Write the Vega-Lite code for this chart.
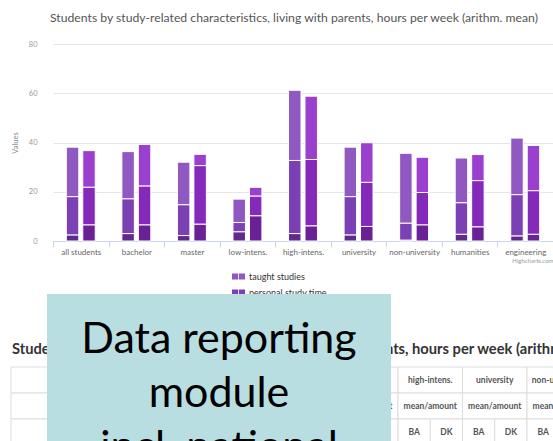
{
  "$schema": "https://vega.github.io/schema/vega-lite/v6.json",
  "padding": {"left": 10, "top": 11, "right": 0, "bottom": 0},
  "background": "white",
  "config": {"font": "Lato", "view": {"stroke": null}},
  "columns": 1,
  "align": "none",
  "spacing": -4,
  "resolve": {"scale": {"xOffset": "independent", "color": "independent"}},
  "datasets": {
    "bars": [
      {"cat": "all students", "country": "BA", "series": "taught studies", "hours": 20.1},
      {"cat": "all students", "country": "BA", "series": "personal study time", "hours": 15.6},
      {"cat": "all students", "country": "BA", "series": "paid job", "hours": 2.4},
      {"cat": "all students", "country": "DK", "series": "taught studies", "hours": 14.9},
      {"cat": "all students", "country": "DK", "series": "personal study time", "hours": 15.3},
      {"cat": "all students", "country": "DK", "series": "paid job", "hours": 6.5},
      {"cat": "bachelor", "country": "BA", "series": "taught studies", "hours": 19.2},
      {"cat": "bachelor", "country": "BA", "series": "personal study time", "hours": 14.1},
      {"cat": "bachelor", "country": "BA", "series": "paid job", "hours": 3.0},
      {"cat": "bachelor", "country": "DK", "series": "taught studies", "hours": 16.9},
      {"cat": "bachelor", "country": "DK", "series": "personal study time", "hours": 15.8},
      {"cat": "bachelor", "country": "DK", "series": "paid job", "hours": 6.5},
      {"cat": "master", "country": "BA", "series": "taught studies", "hours": 17.3},
      {"cat": "master", "country": "BA", "series": "personal study time", "hours": 12.5},
      {"cat": "master", "country": "BA", "series": "paid job", "hours": 2.2},
      {"cat": "master", "country": "DK", "series": "taught studies", "hours": 4.6},
      {"cat": "master", "country": "DK", "series": "personal study time", "hours": 23.8},
      {"cat": "master", "country": "DK", "series": "paid job", "hours": 6.8},
      {"cat": "low-intens.", "country": "BA", "series": "taught studies", "hours": 9.5},
      {"cat": "low-intens.", "country": "BA", "series": "personal study time", "hours": 3.8},
      {"cat": "low-intens.", "country": "BA", "series": "paid job", "hours": 3.7},
      {"cat": "low-intens.", "country": "DK", "series": "taught studies", "hours": 3.6},
      {"cat": "low-intens.", "country": "DK", "series": "personal study time", "hours": 8.0},
      {"cat": "low-intens.", "country": "DK", "series": "paid job", "hours": 10.2},
      {"cat": "high-intens.", "country": "BA", "series": "taught studies", "hours": 28.5},
      {"cat": "high-intens.", "country": "BA", "series": "personal study time", "hours": 29.7},
      {"cat": "high-intens.", "country": "BA", "series": "paid job", "hours": 3.0},
      {"cat": "high-intens.", "country": "DK", "series": "taught studies", "hours": 25.7},
      {"cat": "high-intens.", "country": "DK", "series": "personal study time", "hours": 27.0},
      {"cat": "high-intens.", "country": "DK", "series": "paid job", "hours": 6.1},
      {"cat": "university", "country": "BA", "series": "taught studies", "hours": 20.1},
      {"cat": "university", "country": "BA", "series": "personal study time", "hours": 15.6},
      {"cat": "university", "country": "BA", "series": "paid job", "hours": 2.4},
      {"cat": "university", "country": "DK", "series": "taught studies", "hours": 16.1},
      {"cat": "university", "country": "DK", "series": "personal study time", "hours": 17.9},
      {"cat": "university", "country": "DK", "series": "paid job", "hours": 5.9},
      {"cat": "non-university", "country": "BA", "series": "taught studies", "hours": 28.4},
      {"cat": "non-university", "country": "BA", "series": "personal study time", "hours": 6.9},
      {"cat": "non-university", "country": "BA", "series": "paid job", "hours": 0.3},
      {"cat": "non-university", "country": "DK", "series": "taught studies", "hours": 14.3},
      {"cat": "non-university", "country": "DK", "series": "personal study time", "hours": 13.2},
      {"cat": "non-university", "country": "DK", "series": "paid job", "hours": 6.5},
      {"cat": "humanities", "country": "BA", "series": "taught studies", "hours": 18.2},
      {"cat": "humanities", "country": "BA", "series": "personal study time", "hours": 12.8},
      {"cat": "humanities", "country": "BA", "series": "paid job", "hours": 2.7},
      {"cat": "humanities", "country": "DK", "series": "taught studies", "hours": 10.6},
      {"cat": "humanities", "country": "DK", "series": "personal study time", "hours": 18.8},
      {"cat": "humanities", "country": "DK", "series": "paid job", "hours": 5.7},
      {"cat": "engineering", "country": "BA", "series": "taught studies", "hours": 23.0},
      {"cat": "engineering", "country": "BA", "series": "personal study time", "hours": 16.8},
      {"cat": "engineering", "country": "BA", "series": "paid job", "hours": 2.0},
      {"cat": "engineering", "country": "DK", "series": "taught studies", "hours": 18.4},
      {"cat": "engineering", "country": "DK", "series": "personal study time", "hours": 17.7},
      {"cat": "engineering", "country": "DK", "series": "paid job", "hours": 2.7}
    ],
    "table": [
      {"row": "title", "col": "L1", "text": "Students by study-related characteristics, living with parents, hours per week (arithm. mean)"},
      {"row": "r1", "col": "L1"}, {"row": "r1", "col": "L2"},
      {"row": "r2", "col": "L1"}, {"row": "r2", "col": "L2"},
      {"row": "r3", "col": "L1"}, {"row": "r3", "col": "L2"},
      {"row": "r1", "col": "all students", "text": "all students"},
      {"row": "r1", "col": "bachelor", "text": "bachelor"},
      {"row": "r1", "col": "master", "text": "master"},
      {"row": "r1", "col": "low-intens.", "text": "low-intens."},
      {"row": "r1", "col": "high-intens.", "text": "high-intens."},
      {"row": "r1", "col": "university", "text": "university"},
      {"row": "r1", "col": "non-university", "text": "non-university"},
      {"row": "r1", "col": "humanities", "text": "humanities"},
      {"row": "r1", "col": "engineering", "text": "engineering"},
      {"row": "r2", "col": "all students", "text": "mean/amount"},
      {"row": "r2", "col": "bachelor", "text": "mean/amount"},
      {"row": "r2", "col": "master", "text": "mean/amount"},
      {"row": "r2", "col": "low-intens.", "text": "mean/amount"},
      {"row": "r2", "col": "high-intens.", "text": "mean/amount"},
      {"row": "r2", "col": "university", "text": "mean/amount"},
      {"row": "r2", "col": "non-university", "text": "mean/amount"},
      {"row": "r2", "col": "humanities", "text": "mean/amount"},
      {"row": "r2", "col": "engineering", "text": "mean/amount"},
      {"row": "r3", "col": "all students", "sub": "BA", "text": "BA"},
      {"row": "r3", "col": "all students", "sub": "DK", "text": "DK"},
      {"row": "r3", "col": "bachelor", "sub": "BA", "text": "BA"},
      {"row": "r3", "col": "bachelor", "sub": "DK", "text": "DK"},
      {"row": "r3", "col": "master", "sub": "BA", "text": "BA"},
      {"row": "r3", "col": "master", "sub": "DK", "text": "DK"},
      {"row": "r3", "col": "low-intens.", "sub": "BA", "text": "BA"},
      {"row": "r3", "col": "low-intens.", "sub": "DK", "text": "DK"},
      {"row": "r3", "col": "high-intens.", "sub": "BA", "text": "BA"},
      {"row": "r3", "col": "high-intens.", "sub": "DK", "text": "DK"},
      {"row": "r3", "col": "university", "sub": "BA", "text": "BA"},
      {"row": "r3", "col": "university", "sub": "DK", "text": "DK"},
      {"row": "r3", "col": "non-university", "sub": "BA", "text": "BA"},
      {"row": "r3", "col": "non-university", "sub": "DK", "text": "DK"},
      {"row": "r3", "col": "humanities", "sub": "BA", "text": "BA"},
      {"row": "r3", "col": "humanities", "sub": "DK", "text": "DK"},
      {"row": "r3", "col": "engineering", "sub": "BA", "text": "BA"},
      {"row": "r3", "col": "engineering", "sub": "DK", "text": "DK"}
    ]
  },
  "concat": [
    {
      "width": 500,
      "height": 197,
      "title": {
        "text": "Students by study-related characteristics, living with parents, hours per week (arithm. mean)",
        "fontSize": 12.2, "fontWeight": "normal", "color": "#555555", "offset": 16, "dx": -9, "anchor": "middle"
      },
      "data": {"name": "bars"},
      "encoding": {
        "x": {
          "field": "cat", "type": "nominal", "sort": null,
          "scale": {"paddingInner": 0, "paddingOuter": 0},
          "axis": {
            "title": "Highcharts.com", "titleFontSize": 6, "titleColor": "#999999", "titleFontWeight": "normal",
            "titleAnchor": "end", "titlePadding": 1,
            "labelAngle": 0, "labelFontSize": 8, "labelColor": "#666666", "labelPadding": 1,
            "tickBand": "extent", "tickSize": 6, "tickColor": "#ccd6eb", "domainColor": "#ccd6eb", "grid": false
          }
        },
        "xOffset": {"field": "country", "type": "nominal", "scale": {"domain": ["BA", "DK"], "paddingInner": 0.242, "paddingOuter": 0.809}},
        "y": {
          "field": "hours", "type": "quantitative", "stack": "zero",
          "scale": {"domain": [0, 80], "nice": false},
          "axis": {
            "title": "Values", "titleFontSize": 7.5, "titleColor": "#888888", "titleFontWeight": "normal", "titlePadding": 9,
            "values": [0, 20, 40, 60, 80], "labelFontSize": 7.5, "labelColor": "#999999", "labelPadding": 16,
            "ticks": false, "tickSize": 0, "domain": false, "gridColor": "#e6e6e6"
          }
        },
        "order": {"field": "series", "sort": "ascending"}
      },
      "layer": [
        {
          "transform": [{"filter": "datum.country === 'BA'"}],
          "mark": {"type": "bar", "stroke": "white", "strokeWidth": 1},
          "encoding": {
            "color": {
              "field": "series", "type": "nominal",
              "scale": {"domain": ["paid job", "personal study time", "taught studies"], "range": ["#5f2a8c", "#7b40b3", "#9058c1"]},
              "legend": {
                "values": ["taught studies", "personal study time"],
                "title": null, "orient": "none", "legendX": 179, "legendY": 226,
                "symbolType": "M-1,-0.45H-0.06V0.45H-1Z M0.06,-0.45H1V0.45H0.06Z",
                "symbolSize": 169, "symbolStrokeWidth": 0,
                "labelFontSize": 9, "labelColor": "#333333", "labelOffset": 4, "rowPadding": 4
              }
            }
          }
        },
        {
          "transform": [{"filter": "datum.country === 'DK'"}],
          "mark": {"type": "bar", "stroke": "white", "strokeWidth": 1},
          "encoding": {
            "color": {
              "field": "series", "type": "nominal",
              "scale": {"domain": ["paid job", "personal study time", "taught studies"], "range": ["#6a2196", "#8429ba", "#9b3fce"]},
              "legend": null
            }
          }
        }
      ],
      "resolve": {"scale": {"color": "independent"}}
    },
    {
      "width": 501,
      "height": 151,
      "layer": [
        {
          "data": {"name": "table"},
          "encoding": {
            "x": {
              "field": "col", "type": "nominal",
              "scale": {"domain": ["L1", "L2", "all students", "bachelor", "master", "low-intens.", "high-intens.", "university", "non-university", "humanities", "engineering"], "paddingInner": 0, "paddingOuter": 0, "range": [-42, 667.5]},
              "axis": null
            },
            "y": {
              "field": "row", "type": "nominal",
              "scale": {"domain": ["title", "r1", "r2", "r3"], "paddingInner": 0, "paddingOuter": 0.905, "align": 1},
              "axis": null
            }
          },
          "layer": [
            {
              "transform": [{"filter": "datum.row !== 'title' && !datum.sub"}],
              "mark": {"type": "rect", "fill": "white", "stroke": "#dddddd", "strokeWidth": 1}
            },
            {
              "transform": [{"filter": "datum.sub"}],
              "mark": {"type": "rect", "fill": "white", "stroke": "#dddddd", "strokeWidth": 1},
              "encoding": {"xOffset": {"field": "sub", "type": "nominal", "scale": {"domain": ["BA", "DK"], "paddingInner": 0, "paddingOuter": 0}}}
            },
            {
              "transform": [{"filter": "(datum.row === 'r1' || datum.row === 'r2') && datum.text"}],
              "mark": {"type": "text", "fontSize": 8.5, "fontWeight": "bold", "color": "#555555"},
              "encoding": {"text": {"field": "text"}}
            },
            {
              "transform": [{"filter": "datum.sub"}],
              "mark": {"type": "text", "fontSize": 8.5, "fontWeight": "bold", "color": "#555555"},
              "encoding": {
                "xOffset": {"field": "sub", "type": "nominal", "scale": {"domain": ["BA", "DK"], "paddingInner": 0, "paddingOuter": 0}},
                "text": {"field": "text"}
              }
            },
            {
              "transform": [{"filter": "datum.row === 'title'"}],
              "mark": {"type": "text", "fontSize": 14.7, "fontWeight": "bold", "color": "#333333", "align": "left", "baseline": "alphabetic", "dx": 1},
              "encoding": {
                "x": {"field": "col", "type": "nominal", "bandPosition": 0},
                "text": {"field": "text"}
              }
            }
          ]
        },
        {
          "data": {"values": [{"label": "Data reporting\nmodule\nincl. national"}]},
          "layer": [
            {
              "mark": {"type": "rect", "fill": "#b8dee2"},
              "encoding": {
                "x": {"datum": -0.012, "type": "quantitative", "scale": {"domain": [0, 1], "nice": false, "zero": false}, "axis": null},
                "x2": {"datum": 0.6747},
                "y": {"datum": 1, "type": "quantitative", "scale": {"domain": [0, 1], "nice": false, "zero": false}, "axis": null},
                "y2": {"datum": 0}
              }
            },
            {
              "mark": {"type": "text", "fontSize": 43, "font": "Lato", "color": "black", "align": "center", "baseline": "alphabetic", "lineBreak": "\n", "lineHeight": 54},
              "encoding": {
                "x": {"datum": 0.3313, "type": "quantitative", "scale": {"domain": [0, 1], "nice": false, "zero": false}, "axis": null},
                "y": {"datum": 0.609, "type": "quantitative", "scale": {"domain": [0, 1], "nice": false, "zero": false}, "axis": null},
                "text": {"field": "label"}
              }
            }
          ]
        }
      ],
      "resolve": {"scale": {"x": "independent", "y": "independent"}}
    }
  ]
}
